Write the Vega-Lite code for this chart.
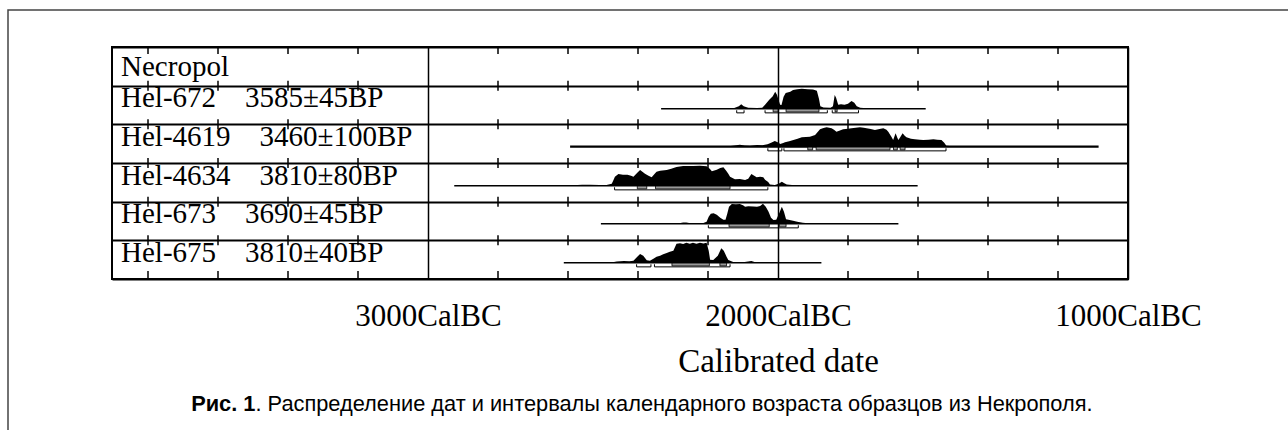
{
  "$schema": "https://vega.github.io/schema/vega-lite/v6.json",
  "width": 1016,
  "height": 232,
  "autosize": {"type": "none"},
  "padding": {"left": 112, "top": 47, "right": 160, "bottom": 151},
  "background": "white",
  "config": {"view": {"stroke": "black", "strokeWidth": 2}},
  "datasets": {
    "labels": [
      {"sample": "Necropol", "row": 0, "label": "Necropol"},
      {"sample": "Hel-672", "row": 1, "label": "Hel-672\u00a0\u00a0\u00a0\u00a03585±45BP"},
      {"sample": "Hel-4619", "row": 2, "label": "Hel-4619\u00a0\u00a0\u00a0\u00a03460±100BP"},
      {"sample": "Hel-4634", "row": 3, "label": "Hel-4634\u00a0\u00a0\u00a0\u00a03810±80BP"},
      {"sample": "Hel-673", "row": 4, "label": "Hel-673\u00a0\u00a0\u00a0\u00a03690±45BP"},
      {"sample": "Hel-675", "row": 5, "label": "Hel-675\u00a0\u00a0\u00a0\u00a03810±40BP"}
    ],
    "ticks": [
      {"line": 0, "year": [3800, 3600, 3400, 3200, 2800, 2600, 2400, 2200, 1800, 1600, 1400, 1200]},
      {"line": 1, "year": [3800, 3600, 3400, 3200, 2800, 2600, 2400, 2200, 1800, 1600, 1400, 1200]},
      {"line": 2, "year": [3800, 3600, 3400, 3200, 2800, 2600, 2400, 2200, 1800, 1600, 1400, 1200]},
      {"line": 3, "year": [3800, 3600, 3400, 3200, 2800, 2600, 2400, 2200, 1800, 1600, 1400, 1200]},
      {"line": 4, "year": [3800, 3600, 3400, 3200, 2800, 2600, 2400, 2200, 1800, 1600, 1400, 1200]},
      {"line": 5, "year": [3800, 3600, 3400, 3200, 2800, 2600, 2400, 2200, 1800, 1600, 1400, 1200]},
      {"line": 6, "year": [3800, 3600, 3400, 3200, 2800, 2600, 2400, 2200, 1800, 1600, 1400, 1200]}
    ],
    "caption": [
      {"part": "bold", "text": "Рис. 1"},
      {"part": "rest", "text": ". Распределение дат и интервалы календарного возраста образцов из Некрополя."}
    ],
    "lines": [
      {"sample": "Hel-672", "start": 2334, "end": 1578},
      {"sample": "Hel-4619", "start": 2594, "end": 1084},
      {"sample": "Hel-4634", "start": 2925, "end": 1601},
      {"sample": "Hel-673", "start": 2506, "end": 1656},
      {"sample": "Hel-675", "start": 2612, "end": 1876}
    ],
    "r95": [
      {"sample": "Hel-672", "from": 2118, "to": 2097},
      {"sample": "Hel-672", "from": 2037, "to": 1859},
      {"sample": "Hel-672", "from": 1845, "to": 1770},
      {"sample": "Hel-4619", "from": 2029, "to": 1989},
      {"sample": "Hel-4619", "from": 1983, "to": 1520},
      {"sample": "Hel-4634", "from": 2467, "to": 2029},
      {"sample": "Hel-673", "from": 2199, "to": 1942},
      {"sample": "Hel-675", "from": 2404, "to": 2363},
      {"sample": "Hel-675", "from": 2353, "to": 2137}
    ],
    "r68": [
      {"sample": "Hel-672", "from": 2014, "to": 2000},
      {"sample": "Hel-672", "from": 1977, "to": 1883},
      {"sample": "Hel-672", "from": 1837, "to": 1831},
      {"sample": "Hel-4619", "from": 1915, "to": 1901},
      {"sample": "Hel-4619", "from": 1891, "to": 1680},
      {"sample": "Hel-4619", "from": 1670, "to": 1659},
      {"sample": "Hel-4619", "from": 1651, "to": 1637},
      {"sample": "Hel-4634", "from": 2402, "to": 2375},
      {"sample": "Hel-4634", "from": 2350, "to": 2137},
      {"sample": "Hel-673", "from": 2140, "to": 2025},
      {"sample": "Hel-673", "from": 1996, "to": 1977},
      {"sample": "Hel-675", "from": 2303, "to": 2196},
      {"sample": "Hel-675", "from": 2166, "to": 2147}
    ],
    "d672": [
      {"year": 2145, "p": 0}, {"year": 2125, "p": 0.03}, {"year": 2112, "p": 0.12}, {"year": 2105, "p": 0.22},
      {"year": 2098, "p": 0.12}, {"year": 2085, "p": 0.04}, {"year": 2060, "p": 0.03}, {"year": 2045, "p": 0.05},
      {"year": 2037, "p": 0.2}, {"year": 2025, "p": 0.45}, {"year": 2015, "p": 0.62}, {"year": 2008, "p": 0.85},
      {"year": 2003, "p": 0.7}, {"year": 1994, "p": 0.2}, {"year": 1990, "p": 0.18}, {"year": 1984, "p": 0.6},
      {"year": 1978, "p": 0.78}, {"year": 1965, "p": 0.85}, {"year": 1957, "p": 0.93}, {"year": 1945, "p": 0.97},
      {"year": 1932, "p": 1.0}, {"year": 1915, "p": 0.97}, {"year": 1900, "p": 0.96}, {"year": 1889, "p": 0.9},
      {"year": 1883, "p": 0.5}, {"year": 1879, "p": 0.12}, {"year": 1870, "p": 0.06}, {"year": 1850, "p": 0.05},
      {"year": 1843, "p": 0.12}, {"year": 1838, "p": 0.68}, {"year": 1834, "p": 0.55}, {"year": 1828, "p": 0.2},
      {"year": 1820, "p": 0.22}, {"year": 1810, "p": 0.2}, {"year": 1800, "p": 0.25}, {"year": 1790, "p": 0.38},
      {"year": 1782, "p": 0.3}, {"year": 1775, "p": 0.12}, {"year": 1765, "p": 0.05}, {"year": 1747, "p": 0.02},
      {"year": 1735, "p": 0}
    ],
    "d4619": [
      {"year": 2150, "p": 0}, {"year": 2135, "p": 0.03}, {"year": 2109, "p": 0.1}, {"year": 2095, "p": 0.06},
      {"year": 2080, "p": 0.05}, {"year": 2060, "p": 0.08}, {"year": 2045, "p": 0.07}, {"year": 2030, "p": 0.12},
      {"year": 2023, "p": 0.17}, {"year": 2009, "p": 0.28}, {"year": 1998, "p": 0.2}, {"year": 1994, "p": 0.13},
      {"year": 1985, "p": 0.18}, {"year": 1980, "p": 0.22}, {"year": 1968, "p": 0.27}, {"year": 1956, "p": 0.33},
      {"year": 1944, "p": 0.4}, {"year": 1932, "p": 0.47}, {"year": 1920, "p": 0.48}, {"year": 1909, "p": 0.5},
      {"year": 1894, "p": 0.58}, {"year": 1886, "p": 0.75}, {"year": 1880, "p": 0.87}, {"year": 1870, "p": 0.93},
      {"year": 1861, "p": 0.97}, {"year": 1847, "p": 0.92}, {"year": 1840, "p": 0.85}, {"year": 1833, "p": 0.75},
      {"year": 1825, "p": 0.8}, {"year": 1814, "p": 0.87}, {"year": 1800, "p": 0.9}, {"year": 1790, "p": 0.92},
      {"year": 1778, "p": 0.95}, {"year": 1766, "p": 0.97}, {"year": 1755, "p": 0.95}, {"year": 1747, "p": 0.92},
      {"year": 1735, "p": 0.88}, {"year": 1723, "p": 0.83}, {"year": 1710, "p": 0.88}, {"year": 1699, "p": 0.92},
      {"year": 1690, "p": 0.85}, {"year": 1685, "p": 0.75}, {"year": 1676, "p": 0.5}, {"year": 1671, "p": 0.33},
      {"year": 1664, "p": 0.67}, {"year": 1659, "p": 0.45}, {"year": 1656, "p": 0.33}, {"year": 1650, "p": 0.5},
      {"year": 1644, "p": 0.67}, {"year": 1638, "p": 0.55}, {"year": 1633, "p": 0.47}, {"year": 1620, "p": 0.4},
      {"year": 1609, "p": 0.37}, {"year": 1595, "p": 0.34}, {"year": 1585, "p": 0.33}, {"year": 1570, "p": 0.35},
      {"year": 1556, "p": 0.37}, {"year": 1545, "p": 0.35}, {"year": 1533, "p": 0.33}, {"year": 1525, "p": 0.2},
      {"year": 1519, "p": 0.05}, {"year": 1500, "p": 0.02}, {"year": 1461, "p": 0.005}, {"year": 1440, "p": 0}
    ],
    "d4634": [
      {"year": 2600, "p": 0}, {"year": 2585, "p": 0.02}, {"year": 2560, "p": 0.04}, {"year": 2537, "p": 0.05},
      {"year": 2510, "p": 0.03}, {"year": 2490, "p": 0.03}, {"year": 2475, "p": 0.1}, {"year": 2470, "p": 0.28},
      {"year": 2466, "p": 0.45}, {"year": 2456, "p": 0.58}, {"year": 2443, "p": 0.55}, {"year": 2430, "p": 0.55},
      {"year": 2420, "p": 0.5}, {"year": 2413, "p": 0.45}, {"year": 2402, "p": 0.65}, {"year": 2394, "p": 0.78},
      {"year": 2380, "p": 0.6}, {"year": 2370, "p": 0.5}, {"year": 2361, "p": 0.42}, {"year": 2351, "p": 0.62},
      {"year": 2347, "p": 0.7}, {"year": 2337, "p": 0.75}, {"year": 2318, "p": 0.78}, {"year": 2305, "p": 0.85},
      {"year": 2290, "p": 0.93}, {"year": 2271, "p": 0.98}, {"year": 2251, "p": 0.98}, {"year": 2242, "p": 0.98},
      {"year": 2223, "p": 1.0}, {"year": 2204, "p": 0.97}, {"year": 2195, "p": 0.85}, {"year": 2189, "p": 0.72},
      {"year": 2175, "p": 0.8}, {"year": 2165, "p": 0.88}, {"year": 2156, "p": 0.92}, {"year": 2148, "p": 0.75},
      {"year": 2142, "p": 0.6}, {"year": 2137, "p": 0.45}, {"year": 2123, "p": 0.32}, {"year": 2109, "p": 0.33},
      {"year": 2094, "p": 0.28}, {"year": 2085, "p": 0.35}, {"year": 2076, "p": 0.58}, {"year": 2068, "p": 0.5},
      {"year": 2061, "p": 0.42}, {"year": 2051, "p": 0.45}, {"year": 2042, "p": 0.42}, {"year": 2037, "p": 0.3},
      {"year": 2028, "p": 0.18}, {"year": 2023, "p": 0.06}, {"year": 2009, "p": 0.03}, {"year": 1998, "p": 0.1},
      {"year": 1989, "p": 0.2}, {"year": 1982, "p": 0.12}, {"year": 1975, "p": 0.06}, {"year": 1960, "p": 0.03},
      {"year": 1940, "p": 0.015}, {"year": 1929, "p": 0.01}, {"year": 1900, "p": 0}
    ],
    "d673": [
      {"year": 2290, "p": 0}, {"year": 2271, "p": 0.06}, {"year": 2262, "p": 0.06}, {"year": 2250, "p": 0.02},
      {"year": 2215, "p": 0.02}, {"year": 2204, "p": 0.1}, {"year": 2198, "p": 0.35}, {"year": 2192, "p": 0.5},
      {"year": 2184, "p": 0.52}, {"year": 2175, "p": 0.45}, {"year": 2165, "p": 0.3}, {"year": 2156, "p": 0.2},
      {"year": 2150, "p": 0.2}, {"year": 2145, "p": 0.5}, {"year": 2140, "p": 0.85}, {"year": 2132, "p": 0.98},
      {"year": 2120, "p": 0.97}, {"year": 2109, "p": 0.98}, {"year": 2100, "p": 0.92}, {"year": 2094, "p": 0.85},
      {"year": 2085, "p": 0.87}, {"year": 2070, "p": 0.86}, {"year": 2060, "p": 0.85}, {"year": 2051, "p": 0.88},
      {"year": 2043, "p": 1.0}, {"year": 2035, "p": 0.85}, {"year": 2027, "p": 0.6}, {"year": 2020, "p": 0.3},
      {"year": 2013, "p": 0.18}, {"year": 2005, "p": 0.2}, {"year": 1996, "p": 0.55}, {"year": 1989, "p": 0.85},
      {"year": 1983, "p": 0.6}, {"year": 1977, "p": 0.22}, {"year": 1970, "p": 0.2}, {"year": 1957, "p": 0.15},
      {"year": 1945, "p": 0.1}, {"year": 1929, "p": 0.05}, {"year": 1914, "p": 0.02}, {"year": 1900, "p": 0}
    ],
    "d675": [
      {"year": 2480, "p": 0}, {"year": 2461, "p": 0.06}, {"year": 2440, "p": 0.08}, {"year": 2425, "p": 0.07},
      {"year": 2413, "p": 0.1}, {"year": 2402, "p": 0.3}, {"year": 2394, "p": 0.43}, {"year": 2385, "p": 0.35},
      {"year": 2375, "p": 0.12}, {"year": 2366, "p": 0.1}, {"year": 2356, "p": 0.2}, {"year": 2347, "p": 0.3},
      {"year": 2337, "p": 0.35}, {"year": 2328, "p": 0.42}, {"year": 2318, "p": 0.48}, {"year": 2309, "p": 0.55},
      {"year": 2299, "p": 0.6}, {"year": 2290, "p": 0.95}, {"year": 2280, "p": 0.97}, {"year": 2271, "p": 0.93},
      {"year": 2262, "p": 1.0}, {"year": 2252, "p": 0.95}, {"year": 2243, "p": 0.99}, {"year": 2233, "p": 0.94},
      {"year": 2223, "p": 1.0}, {"year": 2213, "p": 0.96}, {"year": 2204, "p": 1.0}, {"year": 2198, "p": 0.6},
      {"year": 2194, "p": 0.15}, {"year": 2185, "p": 0.13}, {"year": 2172, "p": 0.35}, {"year": 2162, "p": 0.72},
      {"year": 2155, "p": 0.6}, {"year": 2147, "p": 0.3}, {"year": 2142, "p": 0.13}, {"year": 2128, "p": 0.03},
      {"year": 2100, "p": 0.02}, {"year": 2076, "p": 0.08}, {"year": 2065, "p": 0.02}, {"year": 2040, "p": 0}
    ]
  },
  "resolve": {"scale": {"y": "independent"}},
  "layer": [
    {
      "data": {"name": "ticks"},
      "transform": [{"flatten": ["year"]}, {"filter": "datum.line > 0 && datum.line < 6"}],
      "mark": {"type": "tick", "orient": "vertical", "size": 10, "thickness": 1.5, "color": "black", "opacity": 1},
      "encoding": {
        "x": {"field": "year", "type": "quantitative", "scale": {"domain": [1000, 3902.86], "reverse": true, "nice": false, "zero": false},
          "axis": {"values": [3000, 2000, 1000], "labelExpr": "datum.value + 'CalBC'", "grid": true, "gridColor": "black", "gridWidth": 1.5, "gridOpacity": 1,
            "domain": false, "ticks": false, "labels": true, "labelPadding": 46, "labelBaseline": "alphabetic", "labelFlush": false, "labelOverlap": false, "labelAngle": 0,
            "labelFont": "Liberation Serif", "labelFontSize": 31, "labelColor": "black", "orient": "bottom",
            "title": "Calibrated date", "titleFont": "Liberation Serif", "titleFontSize": 33, "titleFontWeight": "normal", "titleColor": "black",
            "titleBaseline": "alphabetic", "titleAlign": "center", "titleAnchor": "start", "titleX": 666, "titleY": 92}},
        "y": {"field": "line", "type": "quantitative", "scale": {"domain": [0, 6], "reverse": true, "nice": false, "zero": false},
          "axis": {"values": [0, 1, 2, 3, 4, 5, 6], "grid": true, "gridColor": "black", "gridWidth": 2, "labels": false, "ticks": false, "domain": false, "title": null}}
      }
    },
    {
      "data": {"values": [{"k": "frame"}]},
      "mark": {"type": "rect", "filled": false, "stroke": "#444444", "strokeWidth": 1.5},
      "encoding": {
        "x": {"datum": 4200, "type": "quantitative", "scale": {"domain": [1000, 3902.86], "reverse": true, "nice": false, "zero": false}},
        "x2": {"datum": 300},
        "y": {"datum": -0.957, "type": "quantitative", "scale": {"domain": [0, 6], "reverse": true, "nice": false, "zero": false}, "axis": null},
        "y2": {"datum": 12}
      }
    },
    {
      "data": {"name": "ticks"},
      "transform": [{"flatten": ["year"]}, {"filter": "datum.line == 0"}],
      "mark": {"type": "tick", "orient": "vertical", "size": 7, "yOffset": 3.5, "thickness": 1.5, "color": "black", "opacity": 1},
      "encoding": {
        "x": {"field": "year", "type": "quantitative", "scale": {"domain": [1000, 3902.86], "reverse": true, "nice": false, "zero": false}},
        "y": {"field": "line", "type": "quantitative", "scale": {"domain": [0, 6], "reverse": true, "nice": false, "zero": false}, "axis": null}
      }
    },
    {
      "data": {"name": "ticks"},
      "transform": [{"flatten": ["year"]}, {"filter": "datum.line == 6"}],
      "mark": {"type": "tick", "orient": "vertical", "size": 8, "yOffset": -4, "thickness": 1.5, "color": "black", "opacity": 1},
      "encoding": {
        "x": {"field": "year", "type": "quantitative", "scale": {"domain": [1000, 3902.86], "reverse": true, "nice": false, "zero": false}},
        "y": {"field": "line", "type": "quantitative", "scale": {"domain": [0, 6], "reverse": true, "nice": false, "zero": false}, "axis": null}
      }
    },
    {
      "data": {"name": "labels"},
      "transform": [{"filter": "datum.row == 0"}],
      "mark": {"type": "text", "align": "left", "baseline": "alphabetic", "dy": 29, "font": "Liberation Serif", "fontSize": 29, "color": "black"},
      "encoding": {
        "x": {"datum": 3877, "type": "quantitative", "scale": {"domain": [1000, 3902.86], "reverse": true, "nice": false, "zero": false}},
        "y": {"field": "row", "type": "quantitative", "scale": {"domain": [0, 6], "reverse": true, "nice": false, "zero": false}, "axis": null},
        "text": {"field": "label"}
      }
    },
    {
      "data": {"name": "labels"},
      "transform": [{"filter": "datum.row > 0"}],
      "mark": {"type": "text", "align": "left", "baseline": "alphabetic", "dy": 21.7, "font": "Liberation Serif", "fontSize": 29, "color": "black"},
      "encoding": {
        "x": {"datum": 3877, "type": "quantitative", "scale": {"domain": [1000, 3902.86], "reverse": true, "nice": false, "zero": false}},
        "y": {"field": "row", "type": "quantitative", "scale": {"domain": [0, 6], "reverse": true, "nice": false, "zero": false}, "axis": null},
        "text": {"field": "label"}
      }
    },
    {
      "data": {"name": "caption"},
      "transform": [{"filter": "datum.part == 'bold'"}],
      "mark": {"type": "text", "align": "right", "baseline": "alphabetic", "font": "Liberation Sans", "fontSize": 21.8, "fontWeight": "bold", "color": "black"},
      "encoding": {
        "x": {"datum": 3493, "type": "quantitative", "scale": {"domain": [1000, 3902.86], "reverse": true, "nice": false, "zero": false}},
        "y": {"datum": 9.406, "type": "quantitative", "scale": {"domain": [0, 6], "reverse": true, "nice": false, "zero": false}, "axis": null},
        "text": {"field": "text"}
      }
    },
    {
      "data": {"name": "caption"},
      "transform": [{"filter": "datum.part == 'rest'"}],
      "mark": {"type": "text", "align": "left", "baseline": "alphabetic", "font": "Liberation Sans", "fontSize": 21.8, "color": "black"},
      "encoding": {
        "x": {"datum": 3493, "type": "quantitative", "scale": {"domain": [1000, 3902.86], "reverse": true, "nice": false, "zero": false}},
        "y": {"datum": 9.406, "type": "quantitative", "scale": {"domain": [0, 6], "reverse": true, "nice": false, "zero": false}, "axis": null},
        "text": {"field": "text"}
      }
    },
    {
      "layer": [
        {"data": {"name": "lines"}, "transform": [{"filter": "datum.sample == 'Hel-672'"}],
         "mark": {"type": "rule", "color": "black", "strokeWidth": 1.5},
         "encoding": {"x": {"field": "start", "type": "quantitative", "scale": {"domain": [1000, 3902.86], "reverse": true, "nice": false, "zero": false}}, "x2": {"field": "end"},
           "y": {"datum": 0, "type": "quantitative", "scale": {"domain": [-8.5165, 3.0835], "nice": false, "zero": false}, "axis": null}}},
        {"data": {"name": "d672"},
         "mark": {"type": "area", "color": "black", "opacity": 1},
         "encoding": {"x": {"field": "year", "type": "quantitative", "scale": {"domain": [1000, 3902.86], "reverse": true, "nice": false, "zero": false}},
           "y": {"field": "p", "type": "quantitative", "scale": {"domain": [-8.5165, 3.0835], "nice": false, "zero": false}, "axis": null}, "y2": {"datum": 0}}},
        {"data": {"name": "r68"}, "transform": [{"filter": "datum.sample == 'Hel-672'"}],
         "mark": {"type": "rect", "fill": "#999999", "stroke": "black", "strokeWidth": 0.8},
         "encoding": {"x": {"field": "from", "type": "quantitative", "scale": {"domain": [1000, 3902.86], "reverse": true, "nice": false, "zero": false}}, "x2": {"field": "to"},
           "y": {"datum": -0.02, "type": "quantitative", "scale": {"domain": [-8.5165, 3.0835], "nice": false, "zero": false}, "axis": null}, "y2": {"datum": -0.16}}},
        {"data": {"name": "r95"}, "transform": [{"filter": "datum.sample == 'Hel-672'"}],
         "mark": {"type": "rule", "color": "black", "strokeWidth": 1},
         "encoding": {"x": {"field": "from", "type": "quantitative", "scale": {"domain": [1000, 3902.86], "reverse": true, "nice": false, "zero": false}}, "x2": {"field": "to"},
           "y": {"datum": -0.21, "type": "quantitative", "scale": {"domain": [-8.5165, 3.0835], "nice": false, "zero": false}, "axis": null}}},
        {"data": {"name": "r95"}, "transform": [{"filter": "datum.sample == 'Hel-672'"}],
         "mark": {"type": "rule", "color": "black", "strokeWidth": 1},
         "encoding": {"x": {"field": "from", "type": "quantitative", "scale": {"domain": [1000, 3902.86], "reverse": true, "nice": false, "zero": false}},
           "y": {"datum": -0.08, "type": "quantitative", "scale": {"domain": [-8.5165, 3.0835], "nice": false, "zero": false}, "axis": null}, "y2": {"datum": -0.21}}},
        {"data": {"name": "r95"}, "transform": [{"filter": "datum.sample == 'Hel-672'"}],
         "mark": {"type": "rule", "color": "black", "strokeWidth": 1},
         "encoding": {"x": {"field": "to", "type": "quantitative", "scale": {"domain": [1000, 3902.86], "reverse": true, "nice": false, "zero": false}},
           "y": {"datum": -0.08, "type": "quantitative", "scale": {"domain": [-8.5165, 3.0835], "nice": false, "zero": false}, "axis": null}, "y2": {"datum": -0.21}}}
      ]
    },
    {
      "layer": [
        {"data": {"name": "lines"}, "transform": [{"filter": "datum.sample == 'Hel-4619'"}],
         "mark": {"type": "rule", "color": "black", "strokeWidth": 2.2},
         "encoding": {"x": {"field": "start", "type": "quantitative", "scale": {"domain": [1000, 3902.86], "reverse": true, "nice": false, "zero": false}}, "x2": {"field": "end"},
           "y": {"datum": 0, "type": "quantitative", "scale": {"domain": [-6.6165, 4.9835], "nice": false, "zero": false}, "axis": null}}},
        {"data": {"name": "d4619"},
         "mark": {"type": "area", "color": "black", "opacity": 1},
         "encoding": {"x": {"field": "year", "type": "quantitative", "scale": {"domain": [1000, 3902.86], "reverse": true, "nice": false, "zero": false}},
           "y": {"field": "p", "type": "quantitative", "scale": {"domain": [-6.6165, 4.9835], "nice": false, "zero": false}, "axis": null}, "y2": {"datum": 0}}},
        {"data": {"name": "r68"}, "transform": [{"filter": "datum.sample == 'Hel-4619'"}],
         "mark": {"type": "rect", "fill": "#999999", "stroke": "black", "strokeWidth": 0.8},
         "encoding": {"x": {"field": "from", "type": "quantitative", "scale": {"domain": [1000, 3902.86], "reverse": true, "nice": false, "zero": false}}, "x2": {"field": "to"},
           "y": {"datum": -0.02, "type": "quantitative", "scale": {"domain": [-6.6165, 4.9835], "nice": false, "zero": false}, "axis": null}, "y2": {"datum": -0.16}}},
        {"data": {"name": "r95"}, "transform": [{"filter": "datum.sample == 'Hel-4619'"}],
         "mark": {"type": "rule", "color": "black", "strokeWidth": 1},
         "encoding": {"x": {"field": "from", "type": "quantitative", "scale": {"domain": [1000, 3902.86], "reverse": true, "nice": false, "zero": false}}, "x2": {"field": "to"},
           "y": {"datum": -0.21, "type": "quantitative", "scale": {"domain": [-6.6165, 4.9835], "nice": false, "zero": false}, "axis": null}}},
        {"data": {"name": "r95"}, "transform": [{"filter": "datum.sample == 'Hel-4619'"}],
         "mark": {"type": "rule", "color": "black", "strokeWidth": 1},
         "encoding": {"x": {"field": "from", "type": "quantitative", "scale": {"domain": [1000, 3902.86], "reverse": true, "nice": false, "zero": false}},
           "y": {"datum": -0.08, "type": "quantitative", "scale": {"domain": [-6.6165, 4.9835], "nice": false, "zero": false}, "axis": null}, "y2": {"datum": -0.21}}},
        {"data": {"name": "r95"}, "transform": [{"filter": "datum.sample == 'Hel-4619'"}],
         "mark": {"type": "rule", "color": "black", "strokeWidth": 1},
         "encoding": {"x": {"field": "to", "type": "quantitative", "scale": {"domain": [1000, 3902.86], "reverse": true, "nice": false, "zero": false}},
           "y": {"datum": -0.08, "type": "quantitative", "scale": {"domain": [-6.6165, 4.9835], "nice": false, "zero": false}, "axis": null}, "y2": {"datum": -0.21}}}
      ]
    },
    {
      "layer": [
        {"data": {"name": "lines"}, "transform": [{"filter": "datum.sample == 'Hel-4634'"}],
         "mark": {"type": "rule", "color": "black", "strokeWidth": 1.5},
         "encoding": {"x": {"field": "start", "type": "quantitative", "scale": {"domain": [1000, 3902.86], "reverse": true, "nice": false, "zero": false}}, "x2": {"field": "end"},
           "y": {"datum": 0, "type": "quantitative", "scale": {"domain": [-4.6665, 6.9335], "nice": false, "zero": false}, "axis": null}}},
        {"data": {"name": "d4634"},
         "mark": {"type": "area", "color": "black", "opacity": 1},
         "encoding": {"x": {"field": "year", "type": "quantitative", "scale": {"domain": [1000, 3902.86], "reverse": true, "nice": false, "zero": false}},
           "y": {"field": "p", "type": "quantitative", "scale": {"domain": [-4.6665, 6.9335], "nice": false, "zero": false}, "axis": null}, "y2": {"datum": 0}}},
        {"data": {"name": "r68"}, "transform": [{"filter": "datum.sample == 'Hel-4634'"}],
         "mark": {"type": "rect", "fill": "#999999", "stroke": "black", "strokeWidth": 0.8},
         "encoding": {"x": {"field": "from", "type": "quantitative", "scale": {"domain": [1000, 3902.86], "reverse": true, "nice": false, "zero": false}}, "x2": {"field": "to"},
           "y": {"datum": -0.02, "type": "quantitative", "scale": {"domain": [-4.6665, 6.9335], "nice": false, "zero": false}, "axis": null}, "y2": {"datum": -0.16}}},
        {"data": {"name": "r95"}, "transform": [{"filter": "datum.sample == 'Hel-4634'"}],
         "mark": {"type": "rule", "color": "black", "strokeWidth": 1},
         "encoding": {"x": {"field": "from", "type": "quantitative", "scale": {"domain": [1000, 3902.86], "reverse": true, "nice": false, "zero": false}}, "x2": {"field": "to"},
           "y": {"datum": -0.21, "type": "quantitative", "scale": {"domain": [-4.6665, 6.9335], "nice": false, "zero": false}, "axis": null}}},
        {"data": {"name": "r95"}, "transform": [{"filter": "datum.sample == 'Hel-4634'"}],
         "mark": {"type": "rule", "color": "black", "strokeWidth": 1},
         "encoding": {"x": {"field": "from", "type": "quantitative", "scale": {"domain": [1000, 3902.86], "reverse": true, "nice": false, "zero": false}},
           "y": {"datum": -0.08, "type": "quantitative", "scale": {"domain": [-4.6665, 6.9335], "nice": false, "zero": false}, "axis": null}, "y2": {"datum": -0.21}}},
        {"data": {"name": "r95"}, "transform": [{"filter": "datum.sample == 'Hel-4634'"}],
         "mark": {"type": "rule", "color": "black", "strokeWidth": 1},
         "encoding": {"x": {"field": "to", "type": "quantitative", "scale": {"domain": [1000, 3902.86], "reverse": true, "nice": false, "zero": false}},
           "y": {"datum": -0.08, "type": "quantitative", "scale": {"domain": [-4.6665, 6.9335], "nice": false, "zero": false}, "axis": null}, "y2": {"datum": -0.21}}}
      ]
    },
    {
      "layer": [
        {"data": {"name": "lines"}, "transform": [{"filter": "datum.sample == 'Hel-673'"}],
         "mark": {"type": "rule", "color": "black", "strokeWidth": 1.5},
         "encoding": {"x": {"field": "start", "type": "quantitative", "scale": {"domain": [1000, 3902.86], "reverse": true, "nice": false, "zero": false}}, "x2": {"field": "end"},
           "y": {"datum": 0, "type": "quantitative", "scale": {"domain": [-2.7665, 8.8335], "nice": false, "zero": false}, "axis": null}}},
        {"data": {"name": "d673"},
         "mark": {"type": "area", "color": "black", "opacity": 1},
         "encoding": {"x": {"field": "year", "type": "quantitative", "scale": {"domain": [1000, 3902.86], "reverse": true, "nice": false, "zero": false}},
           "y": {"field": "p", "type": "quantitative", "scale": {"domain": [-2.7665, 8.8335], "nice": false, "zero": false}, "axis": null}, "y2": {"datum": 0}}},
        {"data": {"name": "r68"}, "transform": [{"filter": "datum.sample == 'Hel-673'"}],
         "mark": {"type": "rect", "fill": "#999999", "stroke": "black", "strokeWidth": 0.8},
         "encoding": {"x": {"field": "from", "type": "quantitative", "scale": {"domain": [1000, 3902.86], "reverse": true, "nice": false, "zero": false}}, "x2": {"field": "to"},
           "y": {"datum": -0.02, "type": "quantitative", "scale": {"domain": [-2.7665, 8.8335], "nice": false, "zero": false}, "axis": null}, "y2": {"datum": -0.16}}},
        {"data": {"name": "r95"}, "transform": [{"filter": "datum.sample == 'Hel-673'"}],
         "mark": {"type": "rule", "color": "black", "strokeWidth": 1},
         "encoding": {"x": {"field": "from", "type": "quantitative", "scale": {"domain": [1000, 3902.86], "reverse": true, "nice": false, "zero": false}}, "x2": {"field": "to"},
           "y": {"datum": -0.21, "type": "quantitative", "scale": {"domain": [-2.7665, 8.8335], "nice": false, "zero": false}, "axis": null}}},
        {"data": {"name": "r95"}, "transform": [{"filter": "datum.sample == 'Hel-673'"}],
         "mark": {"type": "rule", "color": "black", "strokeWidth": 1},
         "encoding": {"x": {"field": "from", "type": "quantitative", "scale": {"domain": [1000, 3902.86], "reverse": true, "nice": false, "zero": false}},
           "y": {"datum": -0.08, "type": "quantitative", "scale": {"domain": [-2.7665, 8.8335], "nice": false, "zero": false}, "axis": null}, "y2": {"datum": -0.21}}},
        {"data": {"name": "r95"}, "transform": [{"filter": "datum.sample == 'Hel-673'"}],
         "mark": {"type": "rule", "color": "black", "strokeWidth": 1},
         "encoding": {"x": {"field": "to", "type": "quantitative", "scale": {"domain": [1000, 3902.86], "reverse": true, "nice": false, "zero": false}},
           "y": {"datum": -0.08, "type": "quantitative", "scale": {"domain": [-2.7665, 8.8335], "nice": false, "zero": false}, "axis": null}, "y2": {"datum": -0.21}}}
      ]
    },
    {
      "layer": [
        {"data": {"name": "lines"}, "transform": [{"filter": "datum.sample == 'Hel-675'"}],
         "mark": {"type": "rule", "color": "black", "strokeWidth": 1.5},
         "encoding": {"x": {"field": "start", "type": "quantitative", "scale": {"domain": [1000, 3902.86], "reverse": true, "nice": false, "zero": false}}, "x2": {"field": "end"},
           "y": {"datum": 0, "type": "quantitative", "scale": {"domain": [-0.8165, 10.7835], "nice": false, "zero": false}, "axis": null}}},
        {"data": {"name": "d675"},
         "mark": {"type": "area", "color": "black", "opacity": 1},
         "encoding": {"x": {"field": "year", "type": "quantitative", "scale": {"domain": [1000, 3902.86], "reverse": true, "nice": false, "zero": false}},
           "y": {"field": "p", "type": "quantitative", "scale": {"domain": [-0.8165, 10.7835], "nice": false, "zero": false}, "axis": null}, "y2": {"datum": 0}}},
        {"data": {"name": "r68"}, "transform": [{"filter": "datum.sample == 'Hel-675'"}],
         "mark": {"type": "rect", "fill": "#999999", "stroke": "black", "strokeWidth": 0.8},
         "encoding": {"x": {"field": "from", "type": "quantitative", "scale": {"domain": [1000, 3902.86], "reverse": true, "nice": false, "zero": false}}, "x2": {"field": "to"},
           "y": {"datum": -0.02, "type": "quantitative", "scale": {"domain": [-0.8165, 10.7835], "nice": false, "zero": false}, "axis": null}, "y2": {"datum": -0.16}}},
        {"data": {"name": "r95"}, "transform": [{"filter": "datum.sample == 'Hel-675'"}],
         "mark": {"type": "rule", "color": "black", "strokeWidth": 1},
         "encoding": {"x": {"field": "from", "type": "quantitative", "scale": {"domain": [1000, 3902.86], "reverse": true, "nice": false, "zero": false}}, "x2": {"field": "to"},
           "y": {"datum": -0.21, "type": "quantitative", "scale": {"domain": [-0.8165, 10.7835], "nice": false, "zero": false}, "axis": null}}},
        {"data": {"name": "r95"}, "transform": [{"filter": "datum.sample == 'Hel-675'"}],
         "mark": {"type": "rule", "color": "black", "strokeWidth": 1},
         "encoding": {"x": {"field": "from", "type": "quantitative", "scale": {"domain": [1000, 3902.86], "reverse": true, "nice": false, "zero": false}},
           "y": {"datum": -0.08, "type": "quantitative", "scale": {"domain": [-0.8165, 10.7835], "nice": false, "zero": false}, "axis": null}, "y2": {"datum": -0.21}}},
        {"data": {"name": "r95"}, "transform": [{"filter": "datum.sample == 'Hel-675'"}],
         "mark": {"type": "rule", "color": "black", "strokeWidth": 1},
         "encoding": {"x": {"field": "to", "type": "quantitative", "scale": {"domain": [1000, 3902.86], "reverse": true, "nice": false, "zero": false}},
           "y": {"datum": -0.08, "type": "quantitative", "scale": {"domain": [-0.8165, 10.7835], "nice": false, "zero": false}, "axis": null}, "y2": {"datum": -0.21}}}
      ]
    }
  ]
}
